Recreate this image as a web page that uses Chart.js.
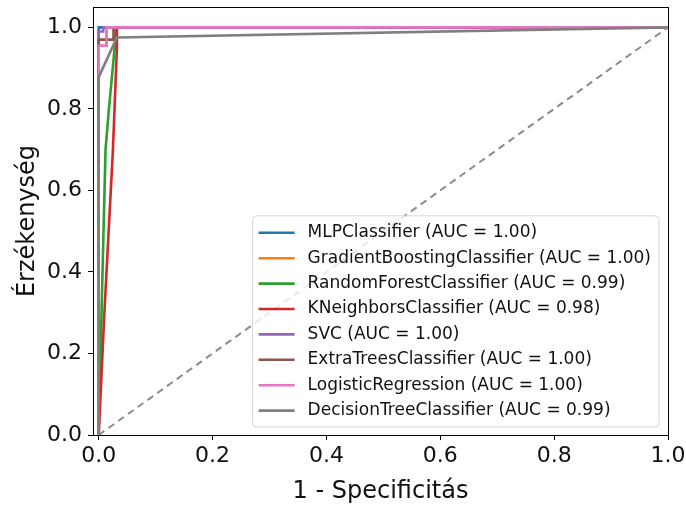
<!DOCTYPE html>
<html lang="hu">
<head>
<meta charset="UTF-8">
<title>ROC görbék</title>
<script src="https://cdn.jsdelivr.net/npm/chart.js@4.4.1/dist/chart.umd.min.js"></script>
<style>
   html, body { margin: 0; padding: 0; background: #fff; }
   #wrap { width: 686px; height: 508px; }
</style>
</head>
<body>
<div id="wrap"><canvas id="myChart" width="686" height="508"></canvas></div>
<script>
   // modellek es szinek (matplotlib tab10)
   const labels = ['MLPClassifier', 'GradientBoostingClassifier', 'RandomForestClassifier', 'KNeighborsClassifier',
                   'SVC', 'ExtraTreesClassifier', 'LogisticRegression', 'DecisionTreeClassifier'];
   const aucs = ['1.00', '1.00', '0.99', '0.98', '1.00', '1.00', '1.00', '0.99'];
   const colors = ['#1f77b4', '#ff7f0e', '#2ca02c', '#d62728', '#9467bd', '#8c564b', '#e377c2', '#7f7f7f'];

   // ROC pontok (1 - specificitas, erzekenyseg), a kepről leolvasva
   const fpr = [
      [0, 0, 0.01, 1],
      [0, 0, 0.014, 0.014, 1],
      [0, 0.005, 0.012, 0.018, 0.028, 0.03, 1],
      [0, 0.01, 0.025, 0.032, 0.032, 1],
      [0, 0, 0.008, 0.008, 1],
      [0, 0, 0.026, 0.026, 1],
      [0, 0, 0.014, 0.014, 1],
      [0, 0, 0.032, 1]
   ];
   const tpr = [
      [0, 1, 1, 1],
      [0, 0.955, 0.955, 1, 1],
      [0, 0.3, 0.7, 0.8, 0.95, 1, 1],
      [0, 0.3, 0.7, 0.95, 1, 1],
      [0, 0.99, 0.99, 1, 1],
      [0, 0.97, 0.97, 1, 1],
      [0, 0.955, 0.955, 1, 1],
      [0, 0.878, 0.975, 1]
   ];
   const chanceX = [0, 1];
   const chanceY = [0, 1];

   const xTicks = [0, 0.2, 0.4, 0.6, 0.8, 1.0];
   const yTicks = [0, 0.2, 0.4, 0.6, 0.8, 1.0];

   const FONT = 'DejaVu Sans';

   const datasets = labels.map((l, i) => ({
      label: l + ' (AUC = ' + aucs[i] + ')',
      data: fpr[i].map((x, j) => ({x: x, y: tpr[i][j]})),
      borderColor: colors[i],
      backgroundColor: colors[i],
      borderWidth: 2.6,
      showLine: true,
      pointRadius: 0,
      tension: 0,
      order: 10 - i
   }));
   datasets.push({
      label: 'chance',
      data: chanceX.map((x, j) => ({x: x, y: chanceY[j]})),
      borderColor: '#8a8a8a',
      borderWidth: 2,
      borderDash: [7, 5],
      showLine: true,
      pointRadius: 0,
      order: 0
   });

   // keret + legenda a rajzteruleten belul, jobb alul
   const keretLegenda = {
      id: 'keretLegenda',
      afterDraw(chart) {
         const ctx = chart.ctx;
         const a = chart.chartArea;
         ctx.save();
         ctx.strokeStyle = '#000';
         ctx.lineWidth = 1;
         ctx.strokeRect(a.left + 0.5, a.top + 0.5, a.right - a.left, a.bottom - a.top);

         const items = chart.data.datasets.filter(d => d.label !== 'chance');
         ctx.font = '17px "' + FONT + '"';
         let maxW = 0;
         items.forEach(d => { maxW = Math.max(maxW, ctx.measureText(d.label).width); });
         const rowH = 25.4;
         const boxW = 55 + maxW + 8;
         const boxH = items.length * rowH + 8;
         const bx = a.right - 9 - boxW;
         const by = a.bottom - 8 - boxH;
         ctx.fillStyle = 'rgba(255,255,255,0.8)';
         ctx.strokeStyle = '#d6d6d6';
         ctx.beginPath();
         ctx.roundRect(bx, by, boxW, boxH, 4);
         ctx.fill();
         ctx.stroke();
         ctx.textBaseline = 'middle';
         items.forEach((d, i) => {
            const cy = by + 17 + i * rowH;
            ctx.strokeStyle = d.borderColor;
            ctx.lineWidth = 2.6;
            ctx.beginPath();
            ctx.moveTo(bx + 6, cy);
            ctx.lineTo(bx + 42, cy);
            ctx.stroke();
            ctx.fillStyle = '#111';
            ctx.fillText(d.label, bx + 55, cy);
         });
         ctx.restore();
      }
   };

   const config = {
      type: 'scatter',
      data: { datasets: datasets },
      plugins: [keretLegenda],
      options: {
         responsive: false,
         animation: false,
         layout: { padding: { top: 7, right: 18, left: 0, bottom: 0 } },
         plugins: {
            legend: { display: false },
            tooltip: { enabled: false }
         },
         scales: {
            x: {
               type: 'linear',
               min: -0.01,
               max: 1.0,
               afterBuildTicks: s => { s.ticks = xTicks.map(v => ({value: v})); },
               afterFit: s => { s.height = 73; s.paddingLeft = 0; s.paddingRight = 0; },
               grid: { display: true, drawOnChartArea: false, drawTicks: true, tickLength: 5, color: '#000' },
               border: { display: true, color: '#000' },
               ticks: {
                  color: '#111',
                  font: { family: FONT, size: 22 },
                  padding: 3,
                  maxRotation: 0,
                  callback: v => v.toFixed(1)
               },
               title: {
                  display: true,
                  text: '1 - Specificitás',
                  color: '#111',
                  font: { family: FONT, size: 24 },
                  padding: { top: 0, bottom: 2 }
               }
            },
            y: {
               type: 'linear',
               min: 0,
               max: 1.05,
               afterBuildTicks: s => { s.ticks = yTicks.map(v => ({value: v})); },
               afterFit: s => { s.width = 93; s.paddingTop = 0; s.paddingBottom = 0; },
               grid: { display: true, drawOnChartArea: false, drawTicks: true, tickLength: 5, color: '#000' },
               border: { display: true, color: '#000' },
               ticks: {
                  color: '#111',
                  font: { family: FONT, size: 22 },
                  padding: 6,
                  callback: v => v.toFixed(1)
               },
               title: {
                  display: true,
                  text: 'Érzékenység',
                  color: '#111',
                  font: { family: FONT, size: 24 },
                  padding: { top: 13, bottom: 0 }
               }
            }
         }
      }
   };

   const myChart = new Chart(document.getElementById('myChart'), config);
</script>
</body>
</html>
